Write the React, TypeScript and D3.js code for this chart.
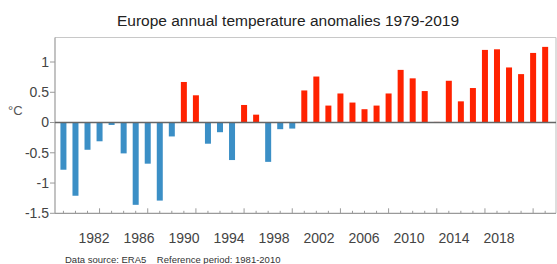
import React from "react";
import * as d3 from "d3";

const years: number[] = d3.range(1979, 2020);
const anomalies: number[] = [
  -0.78, -1.21, -0.45, -0.31, -0.04, -0.51, -1.36, -0.68, -1.29, -0.23,
  0.67, 0.45, -0.35, -0.16, -0.62, 0.29, 0.13, -0.65, -0.11, -0.1,
  0.53, 0.76, 0.28, 0.48, 0.33, 0.22, 0.28, 0.48, 0.87, 0.73,
  0.52, 0.01, 0.69, 0.35, 0.57, 1.2, 1.21, 0.91, 0.8, 1.15, 1.25,
];
const yTicks: number[] = [-1.5, -1, -0.5, 0, 0.5, 1];
const xLabelYears: number[] = [1982, 1986, 1990, 1994, 1998, 2002, 2006, 2010, 2014, 2018];

const W = 557;
const H = 264;
const left = 55;
const right = 556;
const top = 37.5;
const bottom = 213.3;

export default function App() {
  const x = d3.scaleLinear().domain([1978.3, 2019.9]).range([left, right]);
  const y = d3.scaleLinear().domain([-1.5, 1.405]).range([bottom, top]);
  const labelX = d3.scaleLinear().domain([1982, 2018]).range([94, 499]);
  const barW = 6;
  const font = "Liberation Sans, Arial, sans-serif";
  return (
    <svg width={W} height={H} style={{ position: "absolute", left: 0, top: 0, background: "#fff" }} fontFamily={font}>
      <rect x={0} y={0} width={W} height={H} fill="#fff" />
      <text x={288} y={26} textAnchor="middle" fontSize={15.5} fill="#222">
        Europe annual temperature anomalies 1979-2019
      </text>
      {/* frame */}
      <line x1={left} x2={right} y1={top} y2={top} stroke="#c8c8c8" strokeWidth={1.2} />
      <line x1={right} x2={right} y1={top} y2={bottom} stroke="#c8c8c8" strokeWidth={1.2} />
      <line x1={left} x2={left} y1={top} y2={bottom} stroke="#9a9a9a" strokeWidth={1.2} />
      <line x1={left} x2={right} y1={bottom} y2={bottom} stroke="#9a9a9a" strokeWidth={1.2} />
      {/* bars */}
      {years.map((yr, i) => {
        const v = anomalies[i];
        const y0 = y(0);
        const y1 = y(v);
        return (
          <rect
            key={yr}
            x={x(yr) - barW / 2}
            y={Math.min(y0, y1)}
            width={barW}
            height={Math.abs(y1 - y0)}
            fill={v >= 0 ? "#ff2200" : "#3b8fc6"}
          />
        );
      })}
      <line x1={left} x2={right} y1={y(0)} y2={y(0)} stroke="#666" strokeWidth={1.5} />
      {/* y ticks */}
      {yTicks.map((t) => (
        <g key={t}>
          <line x1={left - 5} x2={left} y1={y(t)} y2={y(t)} stroke="#9a9a9a" />
          <text x={left - 6} y={y(t)} dy="0.35em" textAnchor="end" fontSize={14} fill="#444">
            {t}
          </text>
        </g>
      ))}
      <text x={8} y={115} fontSize={13} fill="#555">°C</text>
      {/* x ticks */}
      {years.map((yr) => {
        const major = (yr - 1982) % 4 === 0;
        return (
          <line
            key={yr}
            x1={x(yr)}
            x2={x(yr)}
            y1={bottom}
            y2={bottom - (major ? 5 : 2.5)}
            stroke="#9a9a9a"
          />
        );
      })}
      {xLabelYears.map((yr) => (
        <text key={yr} x={labelX(yr)} y={243} textAnchor="middle" fontSize={14} fill="#444">
          {yr}
        </text>
      ))}
      <text x={65} y={263} fontSize={9.5} fill="#333" style={{ whiteSpace: "pre" }}>
        {"Data source: ERA5    Reference period: 1981-2010"}
      </text>
    </svg>
  );
}
